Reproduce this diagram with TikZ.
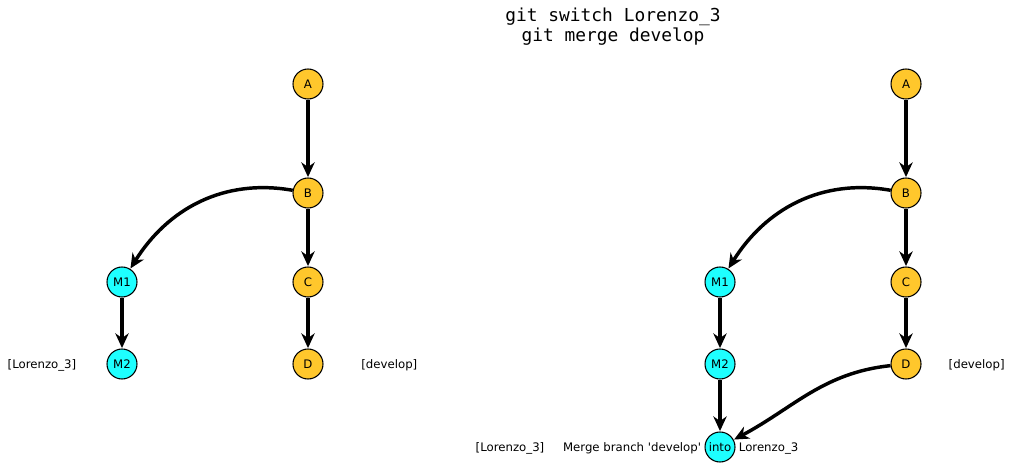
\documentclass[tikz,border=0pt]{standalone}
\usepackage{fontspec}
\setmainfont{DejaVu Sans}[Ligatures=TeXOff]
\newfontfamily\titlemono{DejaVu Sans Mono}
\usetikzlibrary{arrows.meta}
\definecolor{cgold}{RGB}{255,199,44}
\definecolor{ccyan}{RGB}{30,255,255}
\tikzset{
  commit/.style={circle,draw=black,line width=0.8pt,minimum size=22.5pt,inner sep=0pt,font=\fontsize{8.8}{10}\selectfont},
  gold/.style={commit,fill=cgold},
  cyanc/.style={commit,fill=ccyan},
  lbl/.style={font=\fontsize{8.8}{10}\selectfont,inner sep=0pt},
  edge/.style={line width=2.6pt,-{Stealth[length=11pt,width=10pt,inset=3.5pt]},shorten >=0.3pt}
}
\begin{document}
\begin{tikzpicture}[x=0.75pt,y=-0.75pt]
\useasboundingbox (0,0) rectangle (1012,468);
\node[align=center,font=\titlemono\fontsize{13.4}{15}\selectfont] (title) at (613,27) {git switch Lorenzo\_3\\git merge develop};
% left graph
\node[gold] (lA) at (308,84) {A};
\node[gold] (lB) at (308,193) {B};
\node[gold] (lC) at (308,282) {C};
\node[gold] (lD) at (308,364) {D};
\node[cyanc] (lM1) at (122,282) {M1};
\node[cyanc] (lM2) at (122,364) {M2};
\node[lbl,anchor=base] (lL) at ([xshift=-60pt]lM2.base) {[Lorenzo\_3]};
\node[lbl,anchor=base] (lDev) at ([xshift=61pt]lD.base) {[develop]};
\draw[edge] (lA) -- (lB);
\draw[edge] (lB) -- (lC);
\draw[edge] (lC) -- (lD);
\draw[edge] (lM1) -- (lM2);
\draw[edge] (lB) to[out=170,in=58] (lM1);
% right graph
\node[gold] (rA) at (906,84) {A};
\node[gold] (rB) at (906,193) {B};
\node[gold] (rC) at (906,282) {C};
\node[gold] (rD) at (906,364) {D};
\node[cyanc] (rM1) at (720,282) {M1};
\node[cyanc] (rM2) at (720,364) {M2};
\node[cyanc] (rMg) at (720,447) {into};
\node[lbl,anchor=base east] (msgL) at ([xshift=-14pt]rMg.base) {Merge branch 'develop'};
\node[lbl,anchor=base west] (msgR) at ([xshift=14pt]rMg.base) {Lorenzo\_3};
\node[lbl,anchor=base] (rL) at ([xshift=-157.5pt]rMg.base) {[Lorenzo\_3]};
\node[lbl,anchor=base] (rDev) at ([xshift=53pt]rD.base) {[develop]};
\draw[edge] (rA) -- (rB);
\draw[edge] (rB) -- (rC);
\draw[edge] (rC) -- (rD);
\draw[edge] (rM1) -- (rM2);
\draw[edge] (rM2) -- (rMg);
\draw[edge] (rB) to[out=170,in=58] (rM1);
\draw[edge] (rD) to[out=186,in=28] (rMg);
\end{tikzpicture}
\end{document}
